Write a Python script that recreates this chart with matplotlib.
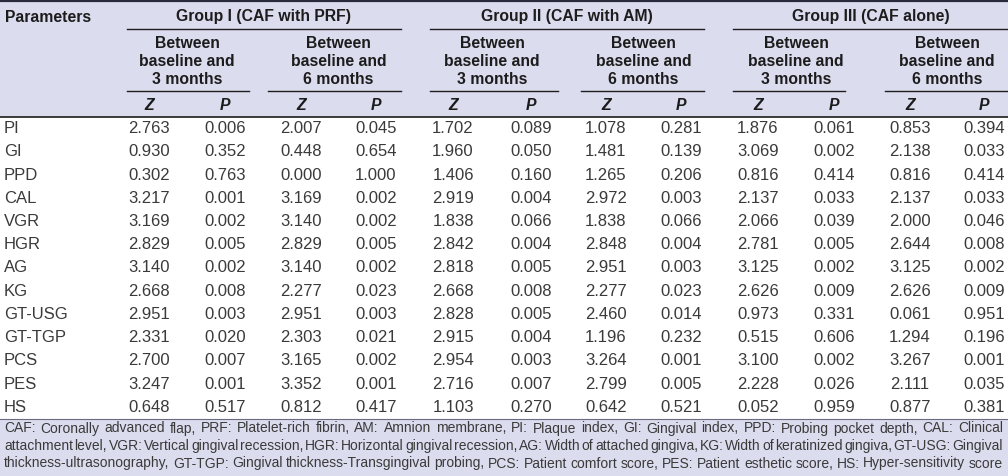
import matplotlib
matplotlib.use("Agg")
import matplotlib.pyplot as plt
from matplotlib.patches import Rectangle

plt.rcParams['font.family'] = ['Liberation Sans', 'DejaVu Sans']

# ---------------- data ----------------
parameters = ["PI", "GI", "PPD", "CAL", "VGR", "HGR", "AG", "KG",
              "GT-USG", "GT-TGP", "PCS", "PES", "HS"]

groups = ["Group I (CAF with PRF)", "Group II (CAF with AM)", "Group III (CAF alone)"]
periods = ["Between\nbaseline and\n3 months", "Between\nbaseline and\n6 months"]
stat_labels = ["Z", "P"]

g1_3m_z = [2.763, 0.930, 0.302, 3.217, 3.169, 2.829, 3.140, 2.668, 2.951, 2.331, 2.700, 3.247, 0.648]
g1_3m_p = [0.006, 0.352, 0.763, 0.001, 0.002, 0.005, 0.002, 0.008, 0.003, 0.020, 0.007, 0.001, 0.517]
g1_6m_z = [2.007, 0.448, 0.000, 3.169, 3.140, 2.829, 3.140, 2.277, 2.951, 2.303, 3.165, 3.352, 0.812]
g1_6m_p = [0.045, 0.654, 1.000, 0.002, 0.002, 0.005, 0.002, 0.023, 0.003, 0.021, 0.002, 0.001, 0.417]
g2_3m_z = [1.702, 1.960, 1.406, 2.919, 1.838, 2.842, 2.818, 2.668, 2.828, 2.915, 2.954, 2.716, 1.103]
g2_3m_p = [0.089, 0.050, 0.160, 0.004, 0.066, 0.004, 0.005, 0.008, 0.005, 0.004, 0.003, 0.007, 0.270]
g2_6m_z = [1.078, 1.481, 1.265, 2.972, 1.838, 2.848, 2.951, 2.277, 2.460, 1.196, 3.264, 2.799, 0.642]
g2_6m_p = [0.281, 0.139, 0.206, 0.003, 0.066, 0.004, 0.003, 0.023, 0.014, 0.232, 0.001, 0.005, 0.521]
g3_3m_z = [1.876, 3.069, 0.816, 2.137, 2.066, 2.781, 3.125, 2.626, 0.973, 0.515, 3.100, 2.228, 0.052]
g3_3m_p = [0.061, 0.002, 0.414, 0.033, 0.039, 0.005, 0.002, 0.009, 0.331, 0.606, 0.002, 0.026, 0.959]
g3_6m_z = [0.853, 2.138, 0.816, 2.137, 2.000, 2.644, 3.125, 2.626, 0.061, 1.294, 3.267, 2.111, 0.877]
g3_6m_p = [0.394, 0.033, 0.414, 0.033, 0.046, 0.008, 0.002, 0.009, 0.951, 0.196, 0.001, 0.035, 0.381]

footnote_lines = [
    "CAF: Coronally advanced flap, PRF: Platelet-rich fibrin, AM: Amnion membrane, PI: Plaque index, GI: Gingival index, PPD: Probing pocket depth, CAL: Clinical",
    "attachment level, VGR: Vertical gingival recession, HGR: Horizontal gingival recession, AG: Width of attached gingiva, KG: Width of keratinized gingiva, GT-USG: Gingival",
    "thickness-ultrasonography, GT-TGP: Gingival thickness-Transgingival probing, PCS: Patient comfort score, PES: Patient esthetic score, HS: Hyper-sensitivity score",
]

columns = [g1_3m_z, g1_3m_p, g1_6m_z, g1_6m_p,
           g2_3m_z, g2_3m_p, g2_6m_z, g2_6m_p,
           g3_3m_z, g3_3m_p, g3_6m_z, g3_6m_p]

# ---------------- layout ----------------
W, H = 1008, 476
BG = "#dcdcef"
HEAD_COL = "#1c1c1c"
BODY_COL = "#3a3a3a"
LINE_COL = "#1e1e1e"

col_x = [149, 225, 301, 376, 453, 531, 606, 681, 758, 834, 910, 984]
group_spans = [(127, 401), (430, 704), (733, 1008)]
period_spans = [(127, 249), (268, 401), (430, 558), (581, 704), (733, 845), (885, 1008)]

header_bottom = 117
footer_top = 419
row_h = (footer_top - header_bottom) / len(parameters)

fig = plt.figure(figsize=(W / 100, H / 100), dpi=100)
ax = fig.add_axes([0, 0, 1, 1])
ax.set_xlim(0, W)
ax.set_ylim(H, 0)
ax.axis("off")

ax.add_patch(Rectangle((0, 0), W, header_bottom, facecolor=BG, edgecolor="none", zorder=0))
ax.add_patch(Rectangle((0, footer_top), W, H - footer_top, facecolor=BG, edgecolor="none", zorder=0))

ax.plot([0, W], [0.8, 0.8], color="#2a2a3a", lw=1.6)
ax.plot([0, W], [header_bottom, header_bottom], color=LINE_COL, lw=1.2)
ax.plot([0, W], [footer_top, footer_top], color="#6a6a80", lw=0.8)

hfs = 11.3
ax.text(5, 17, "Parameters", fontsize=hfs, fontweight="bold", color=HEAD_COL,
        ha="left", va="center")

for g, (a, b) in zip(groups, group_spans):
    ax.text((a + b) / 2, 16, g, fontsize=hfs, fontweight="bold", color=HEAD_COL,
            ha="center", va="center")
    ax.plot([a, b], [29, 29], color=LINE_COL, lw=1.0)

for i, (a, b) in enumerate(period_spans):
    cx = (col_x[2 * i] + col_x[2 * i + 1]) / 2
    for j, line in enumerate(periods[i % 2].split("\n")):
        ax.text(cx, 43 + j * 18.5, line, fontsize=hfs, fontweight="bold", color=HEAD_COL,
                ha="center", va="center")
    ax.plot([a, b], [91, 91], color=LINE_COL, lw=1.0)

for k, x in enumerate(col_x):
    ax.text(x, 105, stat_labels[k % 2], fontsize=hfs, fontweight="bold", style="italic",
            color=HEAD_COL, ha="center", va="center")

bfs = 12
for r, name in enumerate(parameters):
    y = header_bottom + (r + 0.5) * row_h
    ax.text(4, y, name, fontsize=bfs, color=BODY_COL, ha="left", va="center")
    for x, col in zip(col_x, columns):
        ax.text(x, y, f"{col[r]:.3f}", fontsize=bfs, color=BODY_COL, ha="center", va="center")

# justified footnote
fig.canvas.draw()
renderer = fig.canvas.get_renderer()
ffs = 10.0
left, right = 4, 1003
for li, line in enumerate(footnote_lines):
    y = 432.5 + li * 17.5
    words = line.split(" ")
    objs = [ax.text(0, y, w, fontsize=ffs, color=BODY_COL, ha="left", va="baseline") for w in words]
    widths = [o.get_window_extent(renderer).width for o in objs]
    gap = (right - left - sum(widths)) / (len(words) - 1)
    x = left
    for o, wd in zip(objs, widths):
        o.set_x(x)
        x += wd + gap

fig.savefig("out.png", dpi=100)
